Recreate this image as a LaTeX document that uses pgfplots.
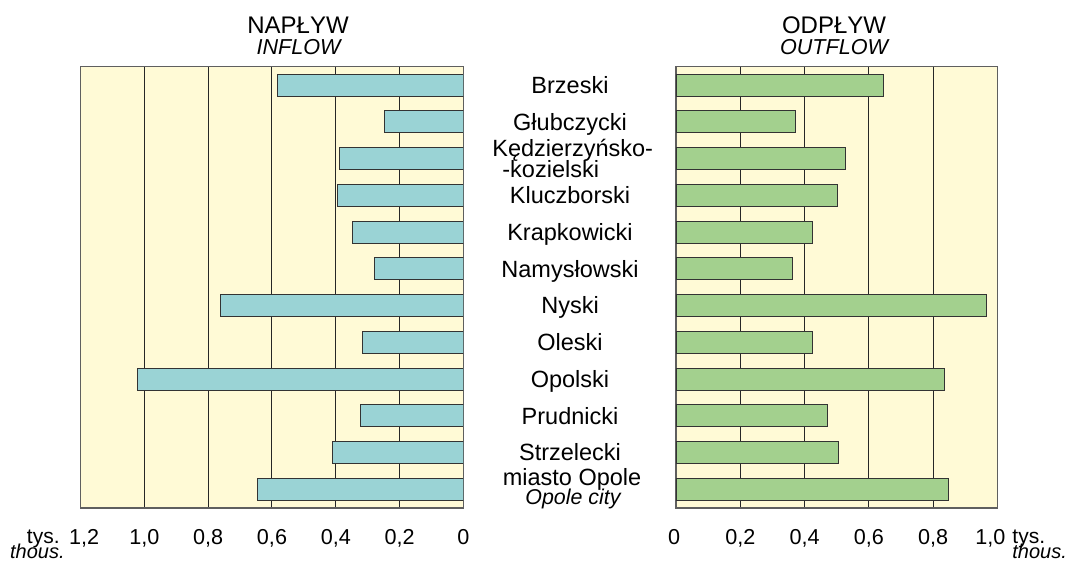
\documentclass[border=0pt]{standalone}
\usepackage{fontspec}
\setmainfont{Liberation Sans}
\usepackage{pgfplots}
\pgfplotsset{compat=1.18}
\definecolor{bg}{RGB}{255,250,214}
\definecolor{inflow}{RGB}{154,211,213}
\definecolor{outflow}{RGB}{163,208,142}
\definecolor{frame}{RGB}{95,95,95}
\pgfplotsset{common/.style={
  scale only axis, height=220.5pt,
  ymin=-0.5, ymax=11.5, y dir=reverse, ytick=\empty,
  xmin=0,
  axis background/.style={fill=bg},
  axis line style={draw=frame, line width=0.8pt},
  xmajorgrids, grid style={black!85, line width=0.5pt},
  major tick length=0pt,
  xticklabel style={font=\fontsize{10.8}{12}\selectfont, anchor=base, yshift=-18.15pt},
  xbar, bar width=11pt,
}}
\begin{document}
\begin{tikzpicture}
\useasboundingbox (0,0) rectangle (534.5pt,280.5pt);
% left axis: inflow
\begin{axis}[common, at={(40.35pt,26.65pt)}, anchor=south west,
  width=191.3pt, x dir=reverse, xmax=1.2,
  xtick={0,0.2,0.4,0.6,0.8,1.0,1.2},
  xticklabels={0,{0,2},{0,4},{0,6},{0,8},{1,0},{\hspace*{3.5pt}1,2}}]
\addplot[fill=inflow, draw=black!80, line width=0.5pt] coordinates {
(0.584,0) (0.247,1) (0.387,2) (0.393,3) (0.346,4) (0.277,5)
(0.761,6) (0.315,7) (1.021,8) (0.321,9) (0.410,10) (0.644,11)};
\end{axis}
% right axis: outflow
\begin{axis}[common, at={(338pt,26.65pt)}, anchor=south west,
  width=160.65pt, xmax=1.0,
  xtick={0,0.2,0.4,0.6,0.8,1.0},
  xticklabels={{\hspace*{-2pt}0},{0,2},{0,4},{0,6},{0,8},{\hspace*{-7pt}1,0}}]
\addplot[fill=outflow, draw=black!80, line width=0.5pt] coordinates {
(0.647,0) (0.372,1) (0.529,2) (0.504,3) (0.426,4) (0.361,5)
(0.965,6) (0.426,7) (0.837,8) (0.470,9) (0.505,10) (0.847,11)};
\end{axis}
% titles
\node[anchor=base, font=\fontsize{12}{14}\selectfont] at (149pt,263.65pt) {NAPŁYW};
\node[anchor=base, font=\fontsize{10.8}{13}\selectfont\itshape] at (149.25pt,253.3pt) {INFLOW};
\node[anchor=base, font=\fontsize{12}{14}\selectfont] at (417pt,263.65pt) {ODPŁYW};
\node[anchor=base, font=\fontsize{10.8}{13}\selectfont\itshape] at (417pt,253.3pt) {OUTFLOW};
% category labels
\begin{scope}[every node/.style={anchor=base, inner sep=0pt, font=\fontsize{11.75}{14}\selectfont}]
\node at (285pt,233.8pt) {Brzeski};
\node at (285pt,215.45pt) {Głubczycki};
\node[anchor=base west] at (246pt,202.15pt) {Kędzierzyńsko-};
\node[anchor=base west] at (251pt,191.75pt) {-kozielski};
\node at (285pt,178.7pt) {Kluczborski};
\node at (285pt,160.3pt) {Krapkowicki};
\node at (285pt,141.95pt) {Namysłowski};
\node at (285pt,123.55pt) {Nyski};
\node at (285pt,105.2pt) {Oleski};
\node at (285pt,86.8pt) {Opolski};
\node at (285pt,68.45pt) {Prudnicki};
\node at (285pt,50.05pt) {Strzelecki};
\node at (286pt,37.8pt) {miasto Opole};
\node[font=\fontsize{10.7}{13}\selectfont\itshape] at (286.5pt,28.2pt) {Opole city};
\end{scope}
% unit labels
\node[anchor=base east, inner sep=0pt, font=\fontsize{10.5}{12}\selectfont] at (30pt,8.5pt) {tys.};
\node[anchor=base east, inner sep=0pt, font=\fontsize{10}{12}\selectfont\itshape] at (32.5pt,1.2pt) {thous.};
\node[anchor=base west, inner sep=0pt, font=\fontsize{10.5}{12}\selectfont] at (506pt,8.5pt) {tys.};
\node[anchor=base west, inner sep=0pt, font=\fontsize{10}{12}\selectfont\itshape] at (506pt,1.2pt) {thous.};
\end{tikzpicture}
\end{document}
